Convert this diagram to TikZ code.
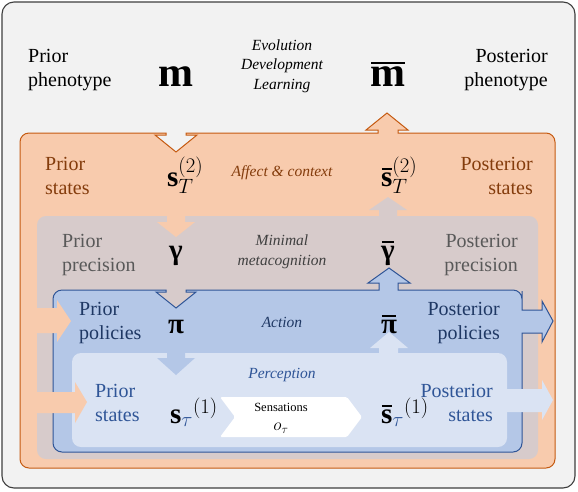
\documentclass[tikz,border=0pt]{standalone}
\usepackage{fontspec}
\setmainfont{Liberation Serif}[Ligatures=TeX, BoldFont={Liberation Serif Bold}, ItalicFont={Liberation Serif Italic}]
\newfontfamily\symfont{Liberation Serif}[BoldFont={Liberation Serif Bold}]
\definecolor{bgc}{HTML}{F2F2F2}
\definecolor{outc}{HTML}{3F3F3F}
\definecolor{orf}{HTML}{F8CBAD}
\definecolor{ord}{HTML}{C55A11}
\definecolor{grf}{HTML}{D7CBCB}
\definecolor{blf}{HTML}{B4C7E7}
\definecolor{bld}{HTML}{2F5597}
\definecolor{ltf}{HTML}{DAE3F3}
\definecolor{brtx}{HTML}{843C0C}
\definecolor{grtx}{HTML}{595959}
\definecolor{gritx}{HTML}{404040}
\definecolor{dbtx}{HTML}{1F3864}
\definecolor{lbtx}{HTML}{2F5597}
\newcommand\mybar[2][0.9]{\setbox0\hbox{#2}\rlap{\hbox to\wd0{\hss\raisebox{\dimexpr\ht0+2.2pt\relax}{\rule{#1\wd0}{2.4pt}}\hss}}\box0}
\tikzset{
  lbl/.style={font=\rmfamily\fontsize{20}{24}\selectfont, inner sep=0pt},
  itl/.style={font=\rmfamily\fontsize{15.5}{19.5}\selectfont\itshape, inner sep=0pt, align=center},
  sym/.style={font=\fontsize{29}{32}\selectfont, inner sep=0pt},
  bigsym/.style={font=\symfont\fontsize{42}{46}\selectfont\bfseries, inner sep=0pt},
}
\begin{document}
\begin{tikzpicture}[x=1pt,y=-1pt]
\useasboundingbox (0,0) rectangle (578,491);
\fill[white] (0,0) rectangle (578,491);
% outer box
\draw[fill=bgc, draw=outc, line width=1.1pt, rounded corners=12pt] (2,2) rectangle (575,488);
% orange box
\path[fill=orf, draw=ord, line width=1pt]
  [rounded corners=9pt] (20,300) -- (20,133) -- (100,133)
  [sharp corners] -- (120,133) -- (166,133) -- (166,135) -- (155,135) -- (176,152) -- (197,135) -- (186,135) -- (186,133)
  -- (378,133) -- (378,130) -- (366,130) -- (387,113) -- (408,130) -- (398,130) -- (398,133) -- (440,133)
  [rounded corners=9pt] -- (470,133) -- (555,133) -- (555,468) -- (20,468) -- cycle;
% gray box
\fill[grf, rounded corners=9pt] (37,216) rectangle (538,459);
\fill[orf] (167,214) -- (167,222) -- (157,222) -- (176,237) -- (195,222) -- (185,222) -- (185,214) -- cycle;
\fill[grf] (379,218) -- (379,210) -- (369,210) -- (388,197) -- (407,210) -- (397,210) -- (397,218) -- cycle;
% blue box
\path[fill=blf, draw=bld, line width=1pt]
  [rounded corners=9pt] (53,380) -- (53,290) -- (100,290)
  [sharp corners] -- (120,290) -- (166,290) -- (166,292) -- (156,292) -- (176,308) -- (196,292) -- (186,292) -- (186,290)
  -- (379,290) -- (379,283) -- (368,283) -- (389,268) -- (410,283) -- (398,283) -- (398,290) -- (440,290)
  [rounded corners=9pt] -- (470,290) -- (522,290) -- (522,300)
  [sharp corners] -- (522,310) -- (542,310) -- (542,301) -- (553,321) -- (542,342) -- (542,333) -- (522,333) -- (522,380)
  [rounded corners=9pt] -- (522,452) -- (53,452) -- cycle;
% light blue box
\fill[ltf, rounded corners=9pt] (72,353) rectangle (507,447);
\fill[blf] (167,351) -- (167,358) -- (157,358) -- (176,375) -- (195,358) -- (185,358) -- (185,351) -- cycle;
\fill[ltf] (379,355) -- (379,348) -- (370,348) -- (389,332) -- (408,348) -- (398,348) -- (398,355) -- cycle;
\fill[ltf] (505,389) -- (542,389) -- (542,380) -- (553,400) -- (542,420) -- (542,412) -- (505,412) -- cycle;
% inflow arrows
\fill[orf] (21,308) -- (57,308) -- (57,300) -- (71,321) -- (57,342) -- (57,333) -- (21,333) -- cycle;
\fill[orf] (21,392) -- (75,392) -- (75,382) -- (87,402) -- (75,423) -- (75,413) -- (21,413) -- cycle;
% sensations arrow
\fill[white, rounded corners=1.5pt] (220,397) -- (347,397) -- (362,417) -- (347,437) -- (220,437) -- (235,417) -- cycle;

% top level texts
\node[lbl, align=left, anchor=west] (pph) at (28,70) {Prior\\phenotype};
\node[lbl, align=right, anchor=east] (poph) at (548,70) {Posterior\\phenotype};
\node[bigsym, anchor=base] (m) at (176,86) {m};
\node[bigsym, anchor=base] (mb) at (388,86) {\mybar[0.95]{m}};
\node[itl] (evo) at (282,66) {Evolution\\Development\\Learning};
% orange level
\node[lbl, text=brtx, align=left, anchor=west] (ps2) at (45,176) {Prior\\states};
\node[lbl, text=brtx, align=right, anchor=east] (pos2) at (533,176) {Posterior\\states};
\node[itl, text=brtx] (aff) at (282,173) {Affect \& context};
\node[sym, anchor=base west] (s2) at (167,186) {$\mathbf{s}_{T}^{(2)}$};
\node[sym, anchor=base west] (s2b) at (381,186) {${\mybar{$\mathbf{s}$}}_{T}^{(2)}$};
% gray level
\node[lbl, text=grtx, align=left, anchor=west] (pprec) at (62,255) {Prior\\precision};
\node[lbl, text=grtx, align=right, anchor=east] (poprec) at (518,255) {Posterior\\precision};
\node[itl, text=gritx] (meta) at (282,252) {Minimal\\metacognition};
\node[sym, font=\symfont\bfseries\fontsize{29}{32}\selectfont, anchor=base] (g) at (176,259) {γ};
\node[sym, font=\symfont\bfseries\fontsize{29}{32}\selectfont, anchor=base] (gb) at (388,259) {\mybar{γ}};
% blue level
\node[lbl, text=dbtx, align=left, anchor=west] (ppol) at (79,323) {Prior\\policies};
\node[lbl, text=dbtx, align=right, anchor=east] (popol) at (500,323) {Posterior\\policies};
\node[itl, text=dbtx] (act) at (282,322) {Action};
\node[sym, font=\symfont\bfseries\fontsize{29}{32}\selectfont, anchor=base] (pi) at (176,333) {π};
\node[sym, font=\symfont\bfseries\fontsize{29}{32}\selectfont, anchor=base] (pib) at (389,333) {\mybar{π}};
% light level
\node[lbl, text=lbtx, align=left, anchor=west] (ps1) at (95,403) {Prior\\states};
\node[lbl, text=lbtx, align=right, anchor=east] (pos1) at (493,403) {Posterior\\states};
\node[itl, text=lbtx] (perc) at (282,375) {Perception};
\node[sym, anchor=base west] (s1) at (170,423) {$\mathbf{s}_{\color{lbtx}\tau}^{(1)}$};
\node[sym, anchor=base west] (s1b) at (381,423) {${\mybar{$\mathbf{s}$}}_{\color{lbtx}\tau}^{(1)}$};
\node[font=\rmfamily\fontsize{12.5}{15}\selectfont, inner sep=0pt] (sens) at (281,407) {Sensations};
\node[font=\fontsize{17}{20}\selectfont, inner sep=0pt] (obs) at (281,428) {$o_{\tau}$};
\end{tikzpicture}
\end{document}
